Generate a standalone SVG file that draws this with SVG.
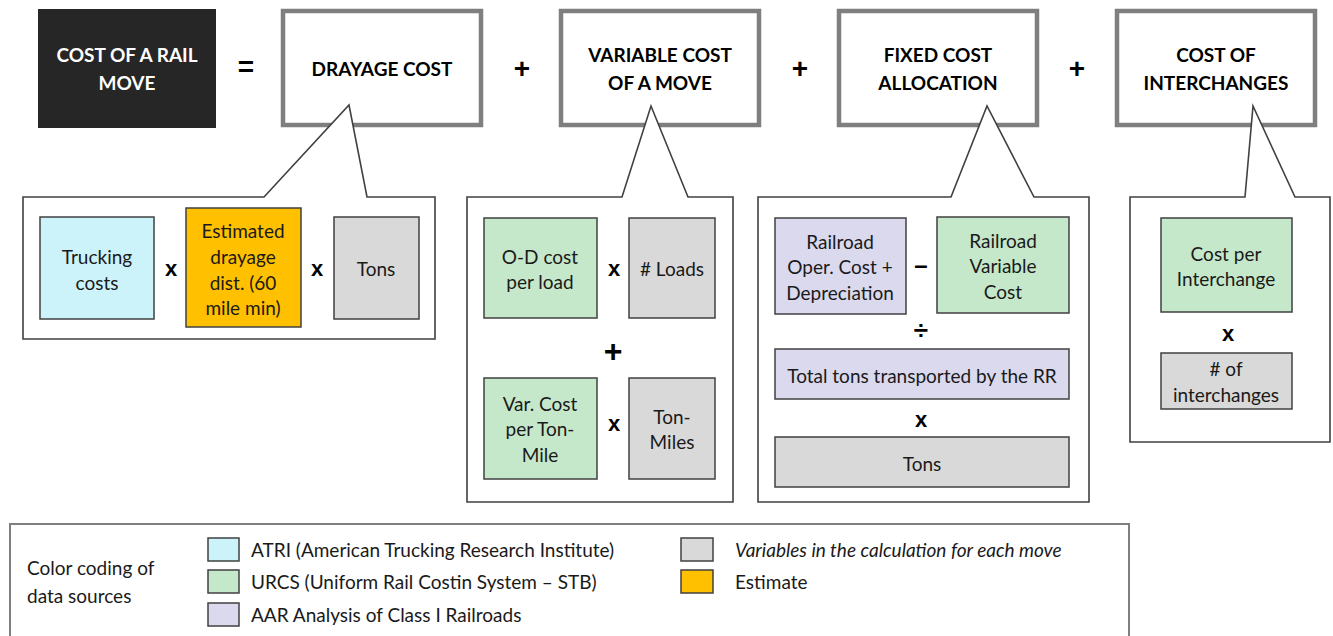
<svg xmlns="http://www.w3.org/2000/svg" width="1333" height="636" viewBox="0 0 1333 636">
  <style>
    .head { fill: #ffffff; stroke: #7f7f7f; stroke-width: 4.5; }
    .headtxt { font-family: Lato, "Open Sans", sans-serif; font-weight: bold; font-size: 19px; fill: #000; text-anchor: middle; dominant-baseline: central; }
    .callout { fill: #ffffff; stroke: #404040; stroke-width: 1.6; stroke-linejoin: miter; }
    .cell { stroke: #404040; stroke-width: 1.5; }
    .atri { fill: #ccf2fa; }
    .urcs { fill: #c6e8ca; }
    .aar { fill: #dad9ee; }
    .var { fill: #d9d9d9; }
    .est { fill: #ffc000; }
    .t { font-family: Lato, "Open Sans", sans-serif; font-size: 19px; fill: #1a1a1a; text-anchor: middle; dominant-baseline: central; }
    .op { font-family: "Liberation Sans", Arial, sans-serif; font-weight: bold; fill: #000; text-anchor: middle; dominant-baseline: central; }
    .lg { font-family: Lato, "Open Sans", sans-serif; font-size: 19px; fill: #1a1a1a; dominant-baseline: central; }
  </style>

  <!-- Equation header -->
  <g id="total">
    <rect x="38" y="9" width="178" height="119" fill="#262626"/>
    <text class="headtxt" x="127" y="54" style="fill:#fff">COST OF A RAIL</text>
    <text class="headtxt" x="127" y="82" style="fill:#fff">MOVE</text>
  </g>
  <text class="op" x="246" y="66" font-size="28">=</text>

  <g id="drayage">
    <rect class="head" x="283" y="11" width="198" height="114"/>
    <text class="headtxt" x="382" y="68">DRAYAGE COST</text>
  </g>
  <text class="op" x="522" y="68" font-size="28">+</text>

  <g id="variable">
    <rect class="head" x="561" y="11" width="198" height="114"/>
    <text class="headtxt" x="660" y="54">VARIABLE COST</text>
    <text class="headtxt" x="660" y="82">OF A MOVE</text>
  </g>
  <text class="op" x="800" y="68" font-size="28">+</text>

  <g id="fixed">
    <rect class="head" x="839" y="11" width="198" height="114"/>
    <text class="headtxt" x="938" y="54">FIXED COST</text>
    <text class="headtxt" x="938" y="82">ALLOCATION</text>
  </g>
  <text class="op" x="1077" y="68" font-size="28">+</text>

  <g id="interchanges">
    <rect class="head" x="1117" y="11" width="198" height="114"/>
    <text class="headtxt" x="1216" y="54">COST OF</text>
    <text class="headtxt" x="1216" y="82">INTERCHANGES</text>
  </g>

  <!-- Callout outlines pointing up to each term -->
  <g id="connectors">
    <path class="callout" d="M23,197 H264 L349,105 L367,197 H435 V339 H23 Z"/>
    <path class="callout" d="M467,197 H622 L651,106 L688,197 H733 V502 H467 Z"/>
    <path class="callout" d="M758,197 H951 L987,106 L1034,197 H1089 V502 H758 Z"/>
    <path class="callout" d="M1130,197 H1245 L1253,106 L1295,197 H1330 V442 H1130 Z"/>
  </g>

  <!-- Drayage breakdown -->
  <g id="drayage-detail">
    <rect class="cell atri" x="40" y="217" width="114" height="102"/>
    <text class="t" x="97" y="256">Trucking</text>
    <text class="t" x="97" y="282">costs</text>
    <text class="op" x="171" y="268" font-size="22">x</text>
    <rect class="cell est" x="186" y="208" width="115" height="119"/>
    <text class="t" x="243" y="230">Estimated</text>
    <text class="t" x="243" y="256">drayage</text>
    <text class="t" x="243" y="282">dist. (60</text>
    <text class="t" x="243" y="307">mile min)</text>
    <text class="op" x="317" y="268" font-size="22">x</text>
    <rect class="cell var" x="334" y="217" width="85" height="102"/>
    <text class="t" x="376" y="268">Tons</text>
  </g>

  <!-- Variable cost breakdown -->
  <g id="variable-detail">
    <rect class="cell urcs" x="484" y="218" width="113" height="100"/>
    <text class="t" x="540" y="256">O-D cost</text>
    <text class="t" x="540" y="281">per load</text>
    <text class="op" x="614" y="268" font-size="22">x</text>
    <rect class="cell var" x="629" y="218" width="86" height="100"/>
    <text class="t" x="672" y="268"># Loads</text>
    <text class="op" x="613" y="351" font-size="32">+</text>
    <rect class="cell urcs" x="484" y="378" width="113" height="101"/>
    <text class="t" x="540" y="403">Var. Cost</text>
    <text class="t" x="540" y="428">per Ton-</text>
    <text class="t" x="540" y="454">Mile</text>
    <text class="op" x="614" y="423" font-size="22">x</text>
    <rect class="cell var" x="629" y="378" width="86" height="101"/>
    <text class="t" x="672" y="416">Ton-</text>
    <text class="t" x="672" y="441">Miles</text>
  </g>

  <!-- Fixed cost breakdown -->
  <g id="fixed-detail">
    <rect class="cell aar" x="775" y="218" width="131" height="96"/>
    <text class="t" x="840" y="241">Railroad</text>
    <text class="t" x="840" y="266">Oper. Cost +</text>
    <text class="t" x="840" y="292">Depreciation</text>
    <text class="op" x="921" y="264" font-size="24">–</text>
    <rect class="cell urcs" x="937" y="217" width="132" height="96"/>
    <text class="t" x="1003" y="240">Railroad</text>
    <text class="t" x="1003" y="265">Variable</text>
    <text class="t" x="1003" y="291">Cost</text>
    <text class="op" x="921" y="330" font-size="26">÷</text>
    <rect class="cell aar" x="775" y="349" width="294" height="50"/>
    <text class="t" x="922" y="375">Total tons transported by the RR</text>
    <text class="op" x="921" y="419" font-size="22">x</text>
    <rect class="cell var" x="775" y="437" width="294" height="50"/>
    <text class="t" x="922" y="463">Tons</text>
  </g>

  <!-- Interchange breakdown -->
  <g id="interchange-detail">
    <rect class="cell urcs" x="1161" y="218" width="131" height="94"/>
    <text class="t" x="1226" y="253">Cost per</text>
    <text class="t" x="1226" y="278">Interchange</text>
    <text class="op" x="1228" y="333" font-size="22">x</text>
    <rect class="cell var" x="1161" y="353" width="131" height="56"/>
    <text class="t" x="1226" y="368"># of</text>
    <text class="t" x="1226" y="394">interchanges</text>
  </g>

  <!-- Legend -->
  <g id="legend">
    <rect x="10" y="524" width="1119" height="130" fill="#ffffff" stroke="#7f7f7f" stroke-width="2"/>
    <text class="lg" x="27" y="567" font-size="22">Color coding of</text>
    <text class="lg" x="27" y="595" font-size="22">data sources</text>
    <rect class="cell atri" x="208" y="538" width="31" height="23"/>
    <text class="lg" x="251" y="549">ATRI (American Trucking Research Institute)</text>
    <rect class="cell urcs" x="208" y="570" width="31" height="23"/>
    <text class="lg" x="251" y="581">URCS (Uniform Rail Costin System – STB)</text>
    <rect class="cell aar" x="208" y="603" width="31" height="23"/>
    <text class="lg" x="251" y="614">AAR Analysis of Class I Railroads</text>
    <rect class="cell var" x="681" y="538" width="32" height="23"/>
    <text class="lg" x="735" y="549" font-style="italic">Variables in the calculation for each move</text>
    <rect class="cell est" x="681" y="570" width="32" height="23"/>
    <text class="lg" x="735" y="581">Estimate</text>
  </g>
</svg>
